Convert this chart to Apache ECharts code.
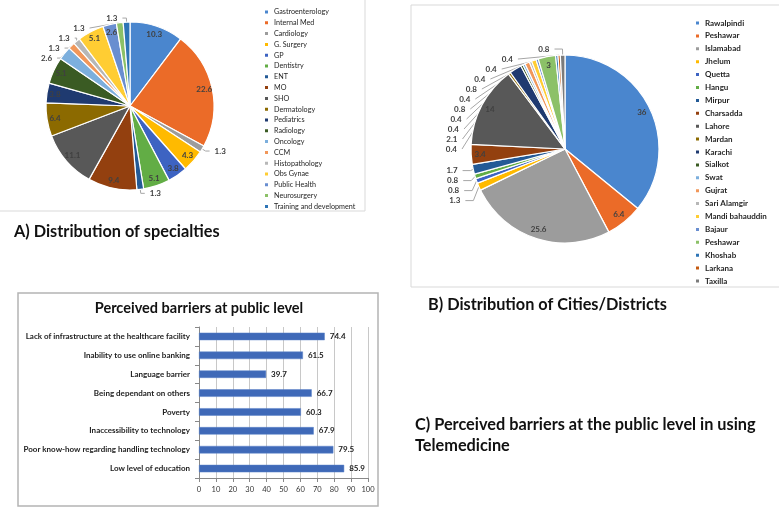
<!DOCTYPE html>
<html><head><meta charset="utf-8">
<script src="https://cdn.jsdelivr.net/npm/echarts@6/dist/echarts.min.js"></script>
<style>html,body{margin:0;padding:0;background:#fff}#c{width:779px;height:507px}</style>
</head><body><div id="c"></div>
<script>
// ---- Data ----
const specialties = ['Gastroenterology','Internal Med','Cardiology','G. Surgery','GP','Dentistry','ENT','MO','SHO','Dermatology','Pediatrics','Radiology','Oncology','CCM','Histopathology','Obs Gynae','Public Health','Neurosurgery','Training and development'];
const specialtyValues = [10.3,22.6,1.3,4.3,3.8,5.1,1.3,9.4,11.1,6.4,3.8,5.1,2.6,1.3,1.3,5.1,2.6,1.3,1.3];

const cities = ['Rawalpindi','Peshawar','Islamabad','Jhelum','Quetta','Hangu','Mirpur','Charsadda','Lahore','Mardan','Karachi','Sialkot','Swat','Gujrat','Sari Alamgir','Mandi bahauddin','Bajaur','Peshawar ','Khoshab','Larkana','Taxilla'];
const cityValues = [36,6.4,25.6,1.3,0.8,0.8,1.7,3.4,14,0.4,2.1,0.4,0.4,0.8,0.4,0.8,0.4,3,0.4,0.4,0.8];

const barriers = ['Lack of infrastructure at the healthcare facility','Inability to use online banking','Language barrier','Being dependant on others','Poverty','Inaccessibility to technology','Poor know-how regarding handling technology','Low level of education'];
const barrierValues = [74.4,61.5,39.7,66.7,60.3,67.9,79.5,85.9];
const barrierTicks = [0,100,10];

// ---- Styles ----
const palette = ['#4A86CE','#EB6B28','#9C9C9C','#FFBA00','#3D63C2','#62AD45','#235A96','#93400F','#585858','#8C6A00','#1F3A70','#3A5B23','#7CAFDD','#F1975A','#B7B7B7','#FFCD33','#698ED0','#8CC168','#2E75B6','#C55A11','#7B7B7B'];
const outsideSpecialties = ['Cardiology','ENT','Oncology','CCM','Histopathology','Neurosurgery','Training and development'];
const cityOutsideBelow = 2.5;
const FONT = 'Lato, "Open Sans", sans-serif';

const chart = echarts.init(document.getElementById('c'), null, {renderer:'canvas'});

function baseData(names, vals){
  return names.map((n,i)=>({name:n, value:vals[i], itemStyle:{color:palette[i % palette.length]}}));
}
function labelData(names, vals, outsideFn){
  return names.map((n,i)=>{
    const out = outsideFn(n, vals[i]);
    return {name:n, value:vals[i], itemStyle:{color:'rgba(0,0,0,0)'},
      label:{position: out ? 'outside' : 'inside'}, labelLine:{show: out}};
  });
}

const labelCommon = {show:true, formatter:'{c}', fontSize:8, fontFamily:FONT, color:'#404040', fontWeight:'bold'};

const option = {
  animation:false,
  color: palette,
  legend:[
    {data: specialties, orient:'vertical', left:258, top:2.5, itemWidth:5, itemHeight:5, icon:'rect', itemGap:1.8,
     textStyle:{fontSize:7.2, lineHeight:9, fontFamily:FONT, color:'#262626'}},
    {data: cities, orient:'vertical', left:689, top:12.5, itemWidth:5, itemHeight:5, icon:'rect', itemGap:1.9,
     textStyle:{fontSize:8, lineHeight:11, fontFamily:FONT, color:'#262626', fontWeight:'bold'}}
  ],
  grid:{left:199, right:411, top:327, bottom:29, containLabel:false},
  xAxis:{type:'value', min:barrierTicks[0], max:barrierTicks[1], interval:barrierTicks[2],
    axisLine:{show:true, lineStyle:{color:'#888'}}, axisTick:{show:true, length:4, lineStyle:{color:'#888'}},
    splitLine:{show:true, lineStyle:{color:'#c8c8c8'}},
    axisLabel:{fontSize:7.5, fontFamily:FONT, color:'#333', margin:8}},
  yAxis:{type:'category', data:barriers, inverse:true,
    axisLine:{show:true, lineStyle:{color:'#888'}}, axisTick:{show:true, length:4, lineStyle:{color:'#888'}},
    axisLabel:{fontSize:8, fontFamily:FONT, fontWeight:'bold', color:'#222', margin:9}},
  series:[
    {type:'pie', center:[130,106], radius:[0,84], startAngle:90, clockwise:true, silent:true,
     itemStyle:{borderColor:'#fff', borderWidth:1.2}, label:{show:false}, labelLine:{show:false},
     data: baseData(specialties, specialtyValues)},
    {type:'pie', center:[130,106], radius:[62,84], startAngle:90, clockwise:true, silent:true,
     itemStyle:{borderWidth:0}, label:labelCommon,
     labelLine:{length:4, length2:4, lineStyle:{color:'#a6a6a6', width:1}},
     data: labelData(specialties, specialtyValues, (n)=>outsideSpecialties.includes(n))},
    {type:'pie', center:[565,149], radius:[0,94], startAngle:90, clockwise:true, silent:true,
     itemStyle:{borderColor:'#fff', borderWidth:1.2}, label:{show:false}, labelLine:{show:false},
     data: baseData(cities, cityValues)},
    {type:'pie', center:[565,149], radius:[70,94], startAngle:90, clockwise:true, silent:true,
     itemStyle:{borderWidth:0}, label:labelCommon,
     labelLine:{length:6, length2:8, lineStyle:{color:'#a6a6a6', width:1}},
     data: labelData(cities, cityValues, (n,v)=>v < cityOutsideBelow)},
    {type:'bar', data:barrierValues, barWidth:7.5,
     itemStyle:{color:'#3F69B8', borderColor:'#5b82c9', borderWidth:0.5},
     label:{show:true, position:'right', distance:5, fontSize:8, fontWeight:'bold', fontFamily:FONT, color:'#222'}}
  ],
  graphic:[
    {type:'rect', z:-10, shape:{x:-1, y:-1, width:366, height:212}, style:{fill:'none', stroke:'#d9d9d9', lineWidth:1}},
    {type:'rect', z:-10, shape:{x:411, y:5, width:370, height:282}, style:{fill:'none', stroke:'#d9d9d9', lineWidth:1}},
    {type:'rect', z:-10, shape:{x:18, y:293, width:360, height:213}, style:{fill:'none', stroke:'#b4b4b4', lineWidth:1.5}},
    {type:'text', x:14, y:232, style:{text:'A) Distribution of specialties', font:'bold 16.3px '+FONT, fill:'#111', textVerticalAlign:'middle'}},
    {type:'text', x:428, y:305, style:{text:'B) Distribution of Cities/Districts', font:'bold 16.3px '+FONT, fill:'#111', textVerticalAlign:'middle'}},
    {type:'text', x:415, y:425, style:{text:'C) Perceived barriers at the public level in using', font:'bold 16.3px '+FONT, fill:'#111', textVerticalAlign:'middle'}},
    {type:'text', x:415, y:446, style:{text:'Telemedicine', font:'bold 16.3px '+FONT, fill:'#111', textVerticalAlign:'middle'}},
    {type:'text', x:199, y:308, style:{text:'Perceived barriers at public level', font:'bold 14.5px '+FONT, fill:'#111', textAlign:'center', textVerticalAlign:'middle'}}
  ]
};
chart.setOption(option);
</script></body></html>
